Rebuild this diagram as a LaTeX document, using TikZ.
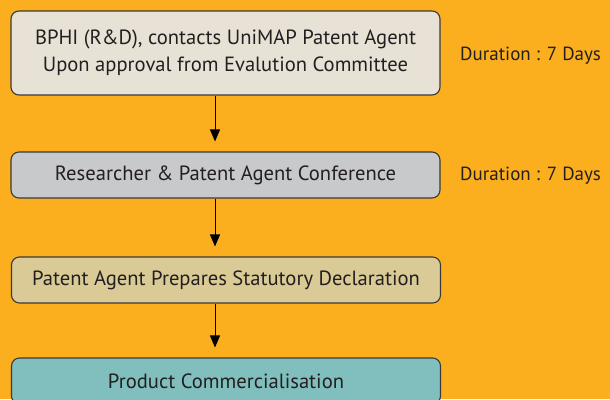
\documentclass[tikz,border=0pt]{standalone}
\usepackage{fontspec}
\setmainfont{PT Sans}
\usepackage{xcolor}
\usetikzlibrary{positioning, arrows.meta}

\definecolor{bgorange}{HTML}{FBAF1F}
\definecolor{boxline}{HTML}{3A3A3A}
\definecolor{txt}{HTML}{231F20}
\definecolor{fillA}{HTML}{E8E2D6}
\definecolor{fillB}{HTML}{C8C9CB}
\definecolor{fillC}{HTML}{DACB96}
\definecolor{fillD}{HTML}{80BFBD}

\begin{document}
\begin{tikzpicture}[x=1pt, y=-1pt,
		stepbox/.style={draw=boxline, line width=1.1pt, rounded corners=8pt,
			minimum width=429pt, text=txt, align=center, inner sep=0pt,
			font=\fontsize{20.6}{27}\selectfont},
		duration/.style={anchor=west, text=txt, inner sep=0pt,
			font=\fontsize{19}{26}\selectfont}]
			\useasboundingbox (0,0) rectangle (610,399);
			\fill[bgorange] (0,0) rectangle (610,399);
			\clip (0,0) rectangle (610,399);
			
			\node[stepbox, fill=fillA, minimum height=84pt] (agent) at (225.5,53)
				{BPHI (R\&D), contacts UniMAP Patent Agent\\Upon approval from Evalution Committee};
			\node[stepbox, fill=fillB, minimum height=46pt] (conf) at (225.5,175)
				{Researcher \& Patent Agent Conference};
			\node[stepbox, fill=fillC, minimum height=46pt] (decl) at (226,280)
				{Patent Agent Prepares Statutory Declaration};
			\node[stepbox, fill=fillD, minimum height=46pt] (comm) at (226,381)
				{Product Commercialisation};
			
			\node[duration] (dur1) at (460,56) {Duration : 7 Days};
			\node[duration] (dur2) at (460,176) {Duration : 7 Days};
			
			\coordinate (ax) at (215,0);
			\begin{scope}[-{Triangle[width=10pt, length=12pt]}, line width=1pt, shorten >=10pt]
				\draw (agent.south -| ax) -- (conf.north -| ax);
				\draw (conf.south -| ax) -- (decl.north -| ax);
				\draw (decl.south -| ax) -- (comm.north -| ax);
			\end{scope}
		\end{tikzpicture}
\end{document}
